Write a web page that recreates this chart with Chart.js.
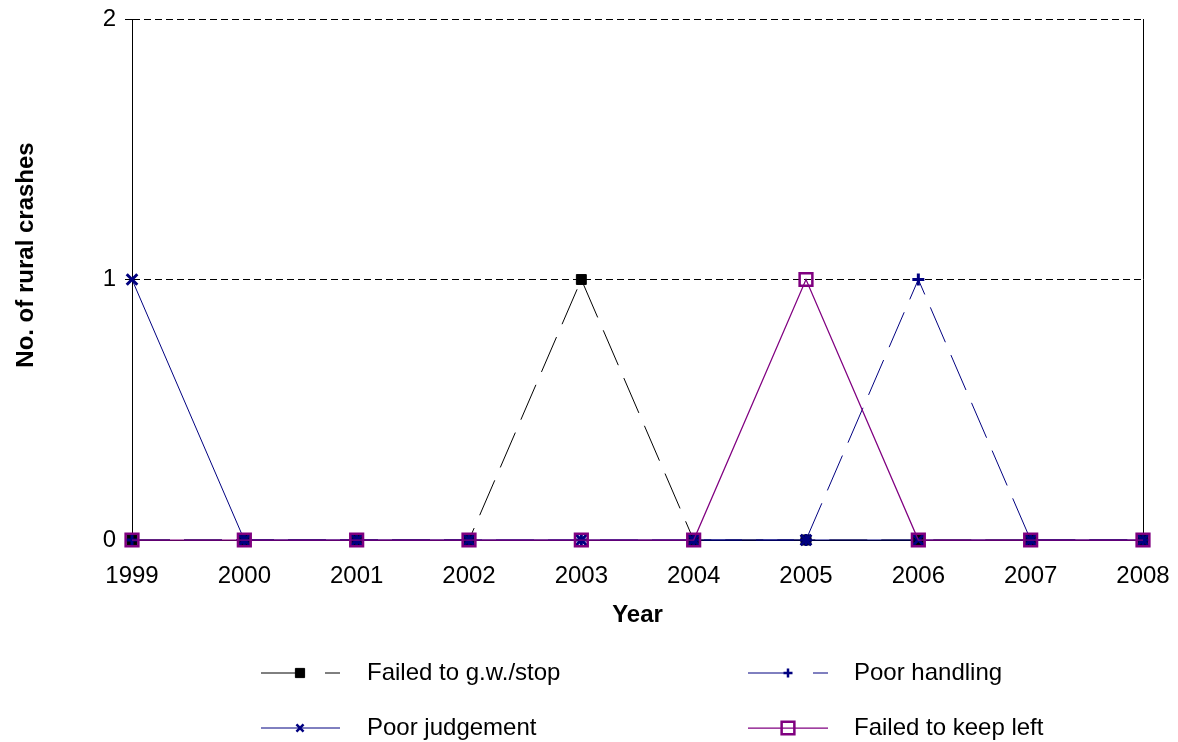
<!DOCTYPE html>
<html>
<head>
<meta charset="utf-8">
<script src="https://cdn.jsdelivr.net/npm/chart.js@4/dist/chart.umd.min.js"></script>
<style>
  body { margin: 0; background: #fff; }
  canvas { display: block; }
</style>
</head>
<body>
<canvas id="chart" width="1178" height="742"></canvas>
<script>
// data
const years = ['1999', '2000', '2001', '2002', '2003', '2004', '2005', '2006', '2007', '2008'];
const failedGw = [0, 0, 0, 0, 1, 0, 0, 0, 0, 0];
const poorJudgement = [1, 0, 0, 0, 0, 0, 0, 0, 0, 0];
const poorHandling = [0, 0, 0, 0, 0, 0, 0, 1, 0, 0];
const failedKeepLeft = [0, 0, 0, 0, 0, 0, 1, 0, 0, 0];
const yTicks = [0, 1, 2];

const FONT = '"Liberation Sans", Arial, sans-serif';
const NAVY = '#000080';
const PURPLE = '#800080';
const LONG_DASH = [38, 14];

Chart.defaults.font.family = FONT;
Chart.defaults.font.size = 24;
Chart.defaults.color = '#000';

// legend drawn by hand: two columns, line sample with marker in the middle
const legendPlugin = {
    id: 'excelLegend',
    afterDraw(chart) {
        const ctx = chart.ctx;
        const cols = [{ x0: 261, x1: 340, mx: 300, tx: 367 }, { x0: 748, x1: 828, mx: 788, tx: 854 }];
        const rows = [673, 728];
        chart.data.datasets.forEach((ds, i) => {
            const c = cols[Math.floor(i / 2)];
            const y = rows[i % 2];
            ctx.save();
            ctx.strokeStyle = ds.borderColor;
            ctx.lineWidth = ds.borderWidth;
            ctx.beginPath();
            if (ds.borderDash && ds.borderDash.length) {
                ctx.moveTo(c.x0, y); ctx.lineTo(c.mx + 4, y);
                ctx.moveTo(c.x1 - 15, y); ctx.lineTo(c.x1, y);
            } else {
                ctx.moveTo(c.x0, y); ctx.lineTo(c.x1, y);
            }
            ctx.stroke();
            const bw = ds.legendBorderWidth || ds.pointBorderWidth;
            ctx.lineWidth = bw;
            ctx.strokeStyle = ds.pointBorderColor;
            ctx.fillStyle = ds.pointBackgroundColor;
            Chart.helpers.drawPoint(ctx, {
                pointStyle: ds.pointStyle,
                radius: ds.legendRadius || ds.pointRadius,
                rotation: 0,
                borderWidth: bw
            }, c.mx, y);
            ctx.fillStyle = '#000';
            ctx.font = '24px ' + FONT;
            ctx.textAlign = 'left';
            ctx.textBaseline = 'middle';
            ctx.fillText(ds.label, c.tx, y);
            ctx.restore();
        });
    }
};

// right edge of the plot box + y axis title (sits a bit above the plot centre)
const framePlugin = {
    id: 'frame',
    beforeDatasetsDraw(chart) {
        const { ctx, chartArea } = chart;
        const x = Math.round(chartArea.right) + 0.5;
        ctx.save();
        ctx.strokeStyle = '#000';
        ctx.lineWidth = 1;
        ctx.beginPath();
        ctx.moveTo(x, chartArea.top);
        ctx.lineTo(x, chartArea.bottom);
        ctx.stroke();

        ctx.translate(26, 255);
        ctx.rotate(-Math.PI / 2);
        ctx.fillStyle = '#000';
        ctx.font = 'bold 24px ' + FONT;
        ctx.textAlign = 'center';
        ctx.textBaseline = 'middle';
        ctx.fillText('No. of rural crashes', 0, 0);
        ctx.restore();
    }
};

const ctx = document.getElementById('chart').getContext('2d');
new Chart(ctx, {
    type: 'line',
    data: {
        labels: years,
        datasets: [
            {
                label: 'Failed to g.w./stop',
                data: failedGw,
                borderColor: '#000',
                borderWidth: 1,
                borderDash: LONG_DASH,
                pointStyle: 'rect',
                pointRadius: 7,
                pointBackgroundColor: '#000',
                pointBorderColor: '#000',
                pointBorderWidth: 1,
                legendRadius: 6.5,
                clip: false,
                order: 3
            },
            {
                label: 'Poor judgement',
                data: poorJudgement,
                borderColor: NAVY,
                borderWidth: 1,
                pointStyle: 'crossRot',
                pointRadius: 7.5,
                pointBackgroundColor: NAVY,
                pointBorderColor: NAVY,
                pointBorderWidth: 3,
                legendRadius: 5,
                legendBorderWidth: 2.5,
                clip: false,
                order: 1
            },
            {
                label: 'Poor handling',
                data: poorHandling,
                borderColor: NAVY,
                borderWidth: 1,
                borderDash: LONG_DASH,
                pointStyle: 'cross',
                pointRadius: 6,
                pointBackgroundColor: NAVY,
                pointBorderColor: NAVY,
                pointBorderWidth: 3,
                legendRadius: 4.5,
                legendBorderWidth: 2.5,
                clip: false,
                order: 2
            },
            {
                label: 'Failed to keep left',
                data: failedKeepLeft,
                borderColor: PURPLE,
                borderWidth: 1.25,
                pointStyle: 'rect',
                pointRadius: 9,
                pointBackgroundColor: 'rgba(0,0,0,0)',
                pointBorderColor: PURPLE,
                pointBorderWidth: 2.5,
                clip: false,
                order: 0
            }
        ]
    },
    options: {
        responsive: false,
        animation: false,
        devicePixelRatio: 1,
        layout: { padding: { top: 19, right: 35, bottom: 107, left: 0 } },
        plugins: {
            legend: { display: false },
            tooltip: { enabled: false }
        },
        elements: { line: { tension: 0, fill: false } },
        scales: {
            x: {
                offset: false,
                grid: { display: false, drawTicks: false },
                border: { display: true, color: '#000', width: 1 },
                ticks: { padding: 22, maxRotation: 0, autoSkip: false },
                title: {
                    display: true,
                    text: 'Year',
                    font: { size: 24, weight: 'bold' },
                    padding: { top: 0, bottom: 5 }
                },
                afterFit(scale) {
                    scale.height = 95;
                    scale.paddingLeft = 0;
                    scale.paddingRight = 0;
                }
            },
            y: {
                min: 0,
                max: 2,
                grid: {
                    color: c => (c.tick && c.tick.value === 0 ? 'rgba(0,0,0,0)' : '#000'),
                    tickColor: '#000',
                    tickLength: 7,
                    lineWidth: 1
                },
                border: { display: true, color: '#000', width: 1, dash: [7, 4] },
                ticks: { stepSize: 1, padding: 9 },
                afterBuildTicks(scale) { scale.ticks = yTicks.map(v => ({ value: v })); },
                afterFit(scale) {
                    scale.width = 132;
                    scale.paddingTop = 0;
                    scale.paddingBottom = 0;
                }
            }
        }
    },
    plugins: [framePlugin, legendPlugin]
});
</script>
</body>
</html>
